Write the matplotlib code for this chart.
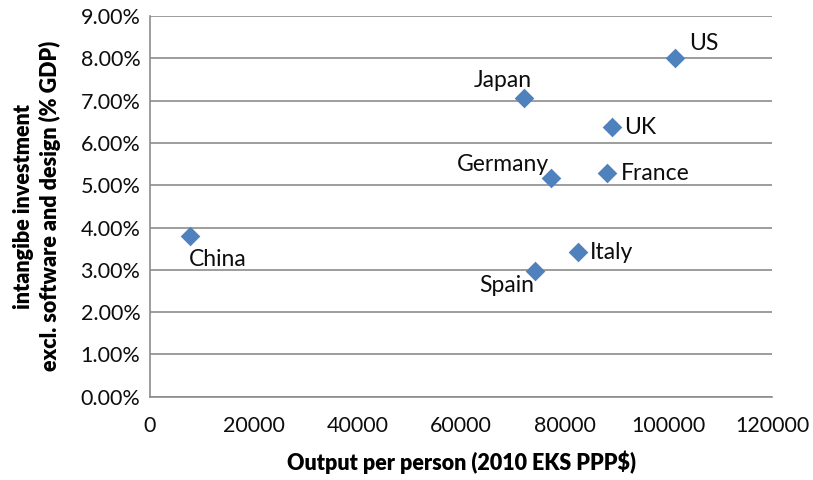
import matplotlib
matplotlib.use("Agg")
import matplotlib.pyplot as plt
from matplotlib.ticker import FuncFormatter

countries = ["US", "Japan", "UK", "Germany", "France", "Italy", "Spain", "China"]
output_pp = [101200, 72100, 89050, 77400, 88150, 82500, 74150, 7700]
intangible = [8.00, 7.07, 6.37, 5.17, 5.28, 3.42, 2.98, 3.79]
# label placement (offset in points, horizontal alignment)
offsets = {
    "US": ((10, 11), "left"), "Japan": ((6, 12), "right"), "UK": ((9, 0), "left"),
    "Germany": ((-2, 10), "right"), "France": ((10, 0), "left"), "Italy": ((9, 0), "left"),
    "Spain": ((0, -11), "right"), "China": ((-1, -17), "left"),
}

plt.rcParams["font.family"] = ["Lato", "DejaVu Sans"]

fig = plt.figure(figsize=(8.13, 4.80), dpi=100)
ax = fig.add_axes([0.1845, 0.1735, 0.7655, 0.7932])

ax.scatter(output_pp, intangible, marker="D", s=100, color="#4F81BD", zorder=3, linewidths=0)
for name, x, y in zip(countries, output_pp, intangible):
    (dx, dy), ha = offsets[name]
    ax.annotate(name, (x, y), xytext=(dx, dy), textcoords="offset points",
                ha=ha, va="center", fontsize=16.5, color="#0d0d0d")

ax.set_xlim(0, 120000)
ax.set_ylim(0, 9)
ax.set_xticks(range(0, 120001, 20000))
ax.set_yticks(range(0, 10))
ax.yaxis.set_major_formatter(FuncFormatter(lambda v, p: f"{v:.2f}%"))
ax.tick_params(length=0, labelsize=15.5, colors="#0d0d0d", pad=7)
ax.tick_params(axis="x", pad=14)

ax.grid(axis="y", color="#8c8c8c", linewidth=1.2)
ax.set_axisbelow(True)
for side in ["top", "right"]:
    ax.spines[side].set_visible(False)
for side in ["left", "bottom"]:
    ax.spines[side].set_color("#8c8c8c")
    ax.spines[side].set_linewidth(1.2)

ax.set_xlabel("Output per person (2010 EKS PPP$)", fontsize=15.5, fontweight="heavy", labelpad=10)
ax.set_ylabel("intangibe investment\nexcl. software and design (% GDP)", fontsize=15.5,
              fontweight="heavy", labelpad=14, linespacing=1.25)

fig.savefig("out.png", dpi=100)
